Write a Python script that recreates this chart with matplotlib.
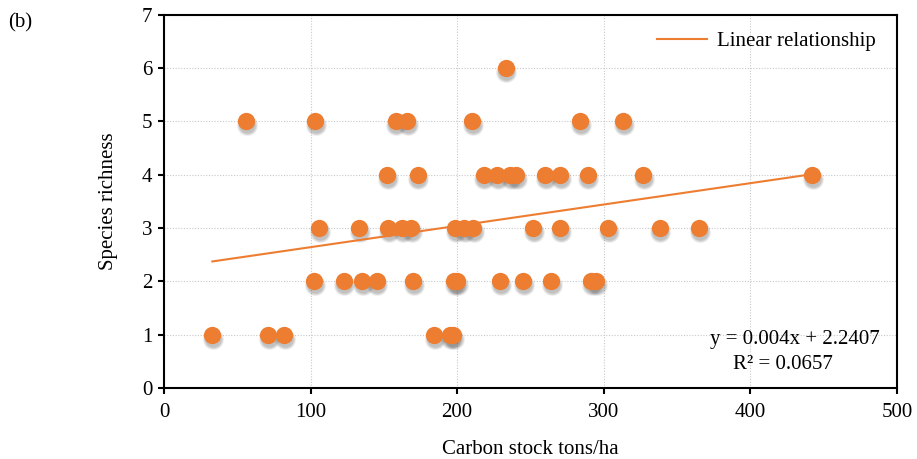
import numpy as np
import matplotlib.pyplot as plt
import matplotlib.transforms as mtransforms

plt.rcParams['font.family'] = ['Liberation Serif', 'DejaVu Serif']

# carbon stock (tons/ha) and species richness
carbon = [233,
          56, 103, 158, 166, 210, 284, 313,
          152, 173, 218, 227, 236, 240, 260, 270, 289, 327, 442,
          106, 133, 153, 162.5, 168.5, 198.5, 204.5, 211, 252, 270, 303, 338, 365,
          102.5, 122.5, 135, 145, 170, 198, 200, 229, 245, 264, 291.5, 294.5,
          33, 71, 82, 184, 195, 197]
richness = [6,
            5, 5, 5, 5, 5, 5, 5,
            4, 4, 4, 4, 4, 4, 4, 4, 4, 4, 4,
            3, 3, 3, 3, 3, 3, 3, 3, 3, 3, 3, 3, 3,
            2, 2, 2, 2, 2, 2, 2, 2, 2, 2, 2, 2,
            1, 1, 1, 1, 1, 1]

slope = 0.004
intercept = 2.2407
r2 = 0.0657

orange = '#ED7D31'
fs = 15

fig = plt.figure(figsize=(9.17, 4.59), dpi=100)
ax = fig.add_axes([0.1788, 0.1547, 0.7994, 0.8133])

# blurred drop shadow: a few faint layers shifted down
shadow = mtransforms.offset_copy(ax.transData, fig=fig, x=0.6, y=-2.8, units='points')
for size in (130, 160, 190, 225):
    ax.scatter(carbon, richness, s=size, color='#404040', alpha=0.09, linewidths=0,
               transform=shadow, zorder=2)
ax.scatter(carbon, richness, s=155, color=orange, linewidths=0, zorder=3)

xl = np.array([min(carbon), max(carbon)])
ax.plot(xl, slope * xl + intercept, color=orange, lw=1.5, zorder=2.5,
        label='Linear relationship')

ax.set_xlim(0, 500)
ax.set_ylim(0, 7)
ax.set_xticks(range(0, 501, 100))
ax.set_yticks(range(0, 8))
ax.grid(True, linestyle=(0, (1, 1.5)), color='#c8c8c8', linewidth=0.8, zorder=0)
for s in ax.spines.values():
    s.set_color('black')
    s.set_linewidth(1.5)
ax.tick_params(labelsize=fs, length=4.5, width=1.5, direction='out')
ax.tick_params(axis='x', pad=6)
ax.tick_params(axis='y', pad=4)

ax.set_xlabel('Carbon stock tons/ha', fontsize=fs, labelpad=13)
ax.set_ylabel('Species richness', fontsize=fs, labelpad=17)

ax.legend(loc='upper right', frameon=False, fontsize=fs, handlelength=2.4,
          handletextpad=0.5, borderaxespad=0.4, bbox_to_anchor=(0.994, 1.0))

ax.text(0.86, 0.13, f'y = {slope}x + {intercept}', transform=ax.transAxes,
        ha='center', va='center', fontsize=fs)
ax.text(0.845, 0.062, f'R² = {r2}', transform=ax.transAxes,
        ha='center', va='center', fontsize=fs)

fig.text(0.009, 0.94, '(b)', fontsize=fs)

fig.savefig('out.png', dpi=100)
